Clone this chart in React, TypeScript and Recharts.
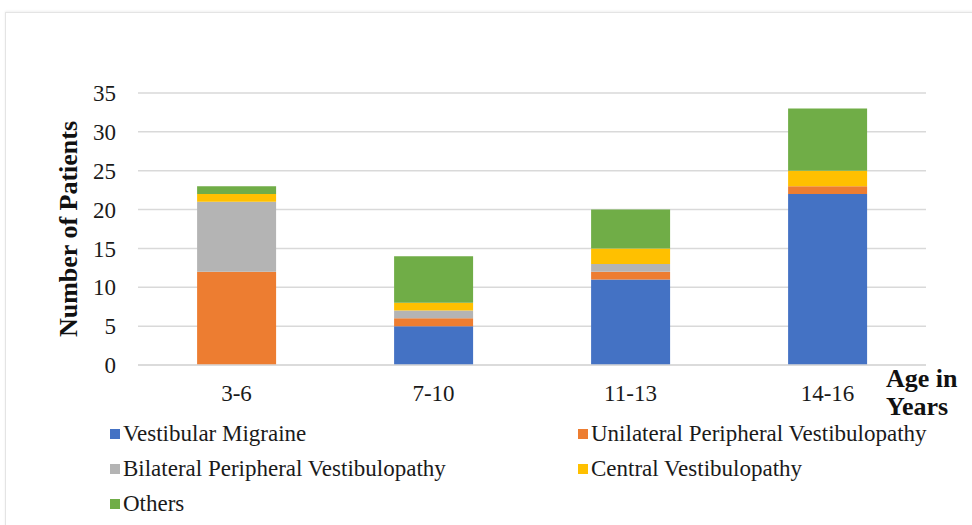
import React from "react";
import { Bar, BarChart, CartesianGrid, Label, XAxis, YAxis } from "recharts";

const ageGroups = ["3-6", "7-10", "11-13", "14-16"];
const vestibularMigraine = [0, 5, 11, 22];
const unilateralPeripheral = [12, 1, 1, 1];
const bilateralPeripheral = [9, 1, 1, 0];
const centralVestibulopathy = [1, 1, 2, 2];
const others = [1, 6, 5, 8];
const yTicks = [0, 5, 10, 15, 20, 25, 30, 35];

const series = [
  { key: "vm", name: "Vestibular Migraine", color: "#4472c4" },
  { key: "upv", name: "Unilateral Peripheral Vestibulopathy", color: "#ed7d31" },
  { key: "bpv", name: "Bilateral Peripheral Vestibulopathy", color: "#b4b4b4" },
  { key: "cv", name: "Central Vestibulopathy", color: "#ffc000" },
  { key: "oth", name: "Others", color: "#70ad47" }
];

const data = ageGroups.map((age, i) => ({
  age,
  vm: vestibularMigraine[i],
  upv: unilateralPeripheral[i],
  bpv: bilateralPeripheral[i],
  cv: centralVestibulopathy[i],
  oth: others[i]
}));

const font = "'Liberation Serif', 'Times New Roman', serif";

function ChartLegend() {
  return (
    <div style={{ position: "absolute", left: 0, top: 419, width: 972, height: 106, fontFamily: font, fontSize: 23, color: "#1a1a1a" }}>
      {series.map((s, i) => {
        const col = i % 2;
        const row = Math.floor(i / 2);
        return (
          <div
            key={s.key}
            style={{
              position: "absolute",
              left: col === 0 ? 110 : 578,
              top: row * 35,
              display: "flex",
              alignItems: "center",
              whiteSpace: "nowrap",
              lineHeight: "30px"
            }}
          >
            <span style={{ display: "inline-block", width: 10, height: 10, background: s.color, marginRight: 3 }} />
            <span>{s.name}</span>
          </div>
        );
      })}
    </div>
  );
}

export default function App() {
  return (
    <div style={{ position: "absolute", left: 0, top: 0, width: 972, height: 525, background: "#fff", overflow: "hidden" }}>
      <div
        style={{
          position: "absolute",
          left: 5,
          top: 12,
          width: 972,
          height: 525,
          borderLeft: "1px solid #e4e4e4",
          borderTop: "1px solid #e4e4e4",
          boxShadow: "0 -1px 2px #f0f0f0"
        }}
      />
      <div style={{ position: "absolute", left: 0, top: 0 }}>
        <BarChart
          width={972}
          height={525}
          data={data}
          margin={{ top: 93, right: 46, left: 0, bottom: 130 }}
          barCategoryGap="30%"
        >
          <CartesianGrid stroke="#d9d9d9" strokeWidth={1.5} vertical={false} />
          <XAxis
            dataKey="age"
            axisLine={{ stroke: "#d9d9d9", strokeWidth: 1.5 }}
            tickLine={false}
            tickMargin={14}
            tick={{ fontSize: 23, fontFamily: font, fill: "#1a1a1a" }}
          />
          <YAxis
            width={138}
            domain={[0, 35]}
            ticks={yTicks}
            interval={0}
            axisLine={false}
            tickLine={false}
            tickMargin={16}
            tick={{ fontSize: 23, fontFamily: font, fill: "#1a1a1a" }}
          >
            <Label
              value="Number of Patients"
              angle={-90}
              position="insideLeft"
              offset={68}
              style={{ fontSize: 26, fontWeight: "bold", fontFamily: font, fill: "#111", textAnchor: "middle" }}
            />
          </YAxis>
          {series.map((s) => (
            <Bar key={s.key} dataKey={s.key} name={s.name} stackId="a" fill={s.color} isAnimationActive={false} />
          ))}
        </BarChart>
      </div>
      <ChartLegend />
      <div
        style={{
          position: "absolute",
          left: 886,
          top: 365,
          fontFamily: font,
          fontSize: 26,
          fontWeight: "bold",
          lineHeight: "28px",
          color: "#111"
        }}
      >
        Age in
        <br />
        Years
      </div>
    </div>
  );
}
